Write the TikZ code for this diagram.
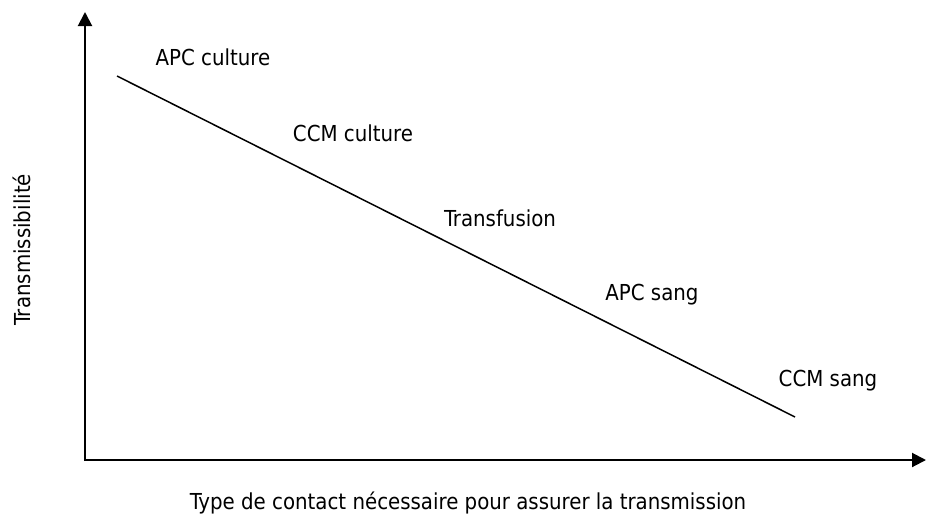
\documentclass[tikz,border=0pt]{standalone}
\usepackage{fontspec}
\setmainfont{DejaVu Sans Condensed}
\usetikzlibrary{arrows.meta}
\begin{document}
\begin{tikzpicture}[x=1pt,y=-1pt,
  lbl/.style={font=\fontsize{22}{26}\selectfont, inner sep=0pt, anchor=center},
  axis/.style={line width=2pt, -{Triangle[length=14pt,width=14pt]}},
  trend/.style={line width=1.5pt}]
\useasboundingbox (0,0) rectangle (926,517);
\coordinate (o) at (85,460);
\coordinate (ytop) at (85,12);
\coordinate (xend) at (926,460);
\coordinate (d1) at (117,76);
\coordinate (d2) at (795,417);
\draw[axis] ([yshift=-1pt]o) -- (ytop);
\draw[axis] ([xshift=-1pt]o) -- (xend);
\draw[trend] (d1) -- (d2);
\node[lbl] (apcc) at (213,57) {APC culture};
\node[lbl] (ccmc) at (353,133) {CCM culture};
\node[lbl] (tr) at (500,218) {Transfusion};
\node[lbl] (apcs) at (652,295) {APC sang};
\node[lbl] (ccms) at (828,381) {CCM sang};
\node[lbl, rotate=90] (ylab) at (22,250) {Transmissibilité};
\node[lbl] (xlab) at (468,503) {Type de contact nécessaire pour assurer la transmission};
\end{tikzpicture}
\end{document}
